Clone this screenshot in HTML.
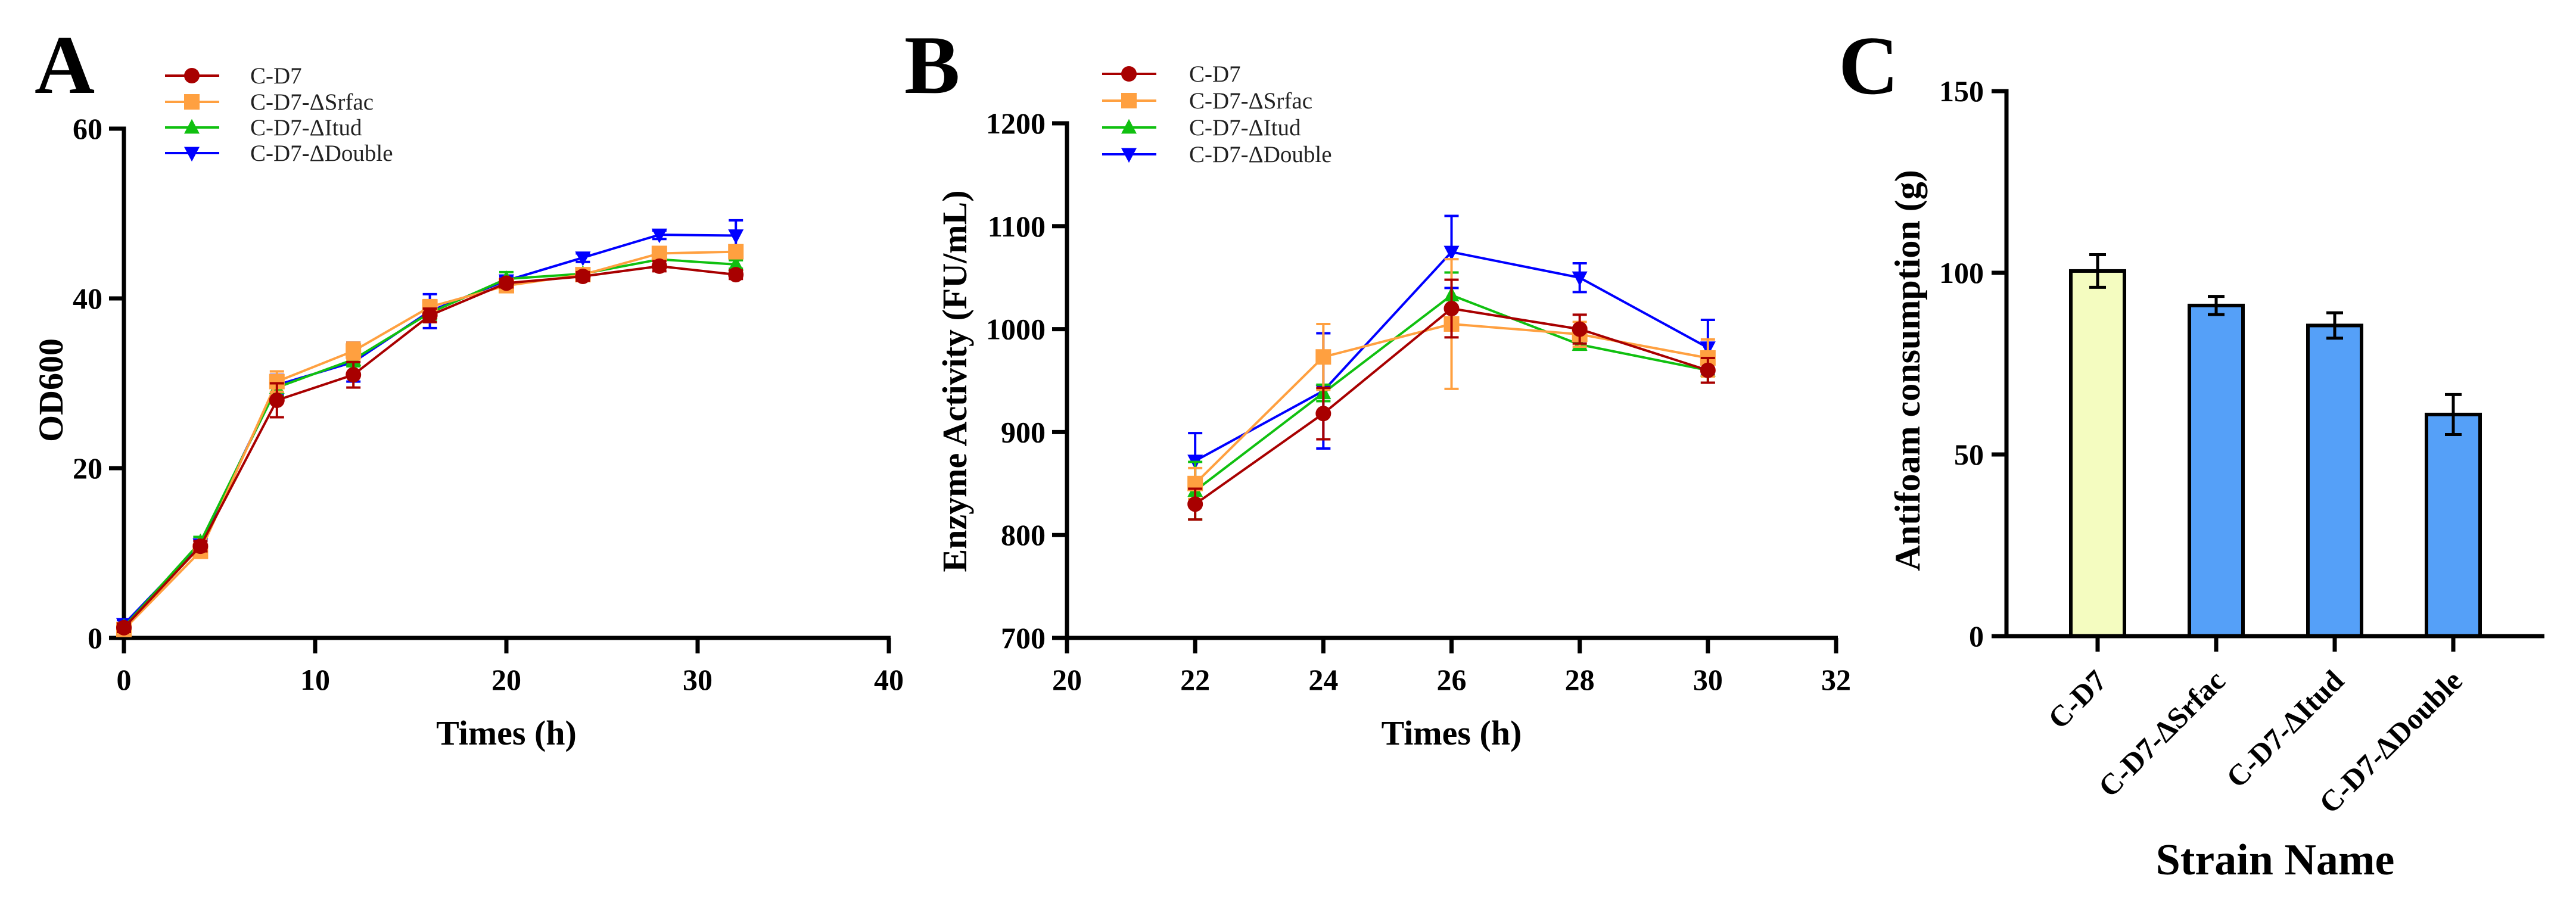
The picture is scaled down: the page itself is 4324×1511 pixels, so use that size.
<!DOCTYPE html>
<html><head><meta charset="utf-8"><style>
html,body{margin:0;padding:0;background:#fff;}
svg{display:block;font-family:"Liberation Serif",serif;}
</style></head><body>
<svg id="fig" width="4324" height="1511" viewBox="0 0 4324 1511" xmlns="http://www.w3.org/2000/svg">
<rect width="4324" height="1511" fill="#fff"/>
<g id="pA"></g>
<g id="pB"></g>
<g id="pC"></g>
</svg>
<script>
// Panel A data
const timesA = [0,4,8,12,16,20,24,28,32];
const odC = [1.2,10.8,28,31,38,41.8,42.6,43.8,42.8];
const odS = [1.0,10.2,30.2,33.8,39,41.5,42.8,45.3,45.5];
const odI = [1.3,11.3,29.5,32.8,38.3,42.3,42.9,44.6,44.0];
const odD = [1.6,11.0,29.8,32.5,38.5,42.1,44.8,47.5,47.4];
const odCe = [0.5,0.6,2.0,1.5,0.8,0.5,0.5,0.6,0.5];
const odSe = [0.4,0.6,1.2,1.0,0.8,0.6,0.5,0.6,0.6];
const odIe = [0.4,0.6,1.0,0.8,0.8,0.8,0.5,0.6,0.5];
const odDe = [0.5,0.5,1.2,2.3,2.0,0.5,0.5,0.5,1.8];
const xTicksA = [0,10,20,30,40];
const yTicksA = [0,20,40,60];
// Panel B data
const timesB = [22,24,26,28,30];
const enC = [830,918,1020,1000,960];
const enS = [850,973,1005,995,972];
const enI = [843,938,1033,985,960];
const enD = [872,940,1075,1050,982];
const enCe = [15,25,28,14,12];
const enSe = [15,32,63,12,18];
const enIe = [28,8,22,5,12];
const enDe = [27,56,35,14,27];
const xTicksB = [20,22,24,26,28,30,32];
const yTicksB = [700,800,900,1000,1100,1200];
// Panel C data
const strains = ["C-D7","C-D7-ΔSrfac","C-D7-ΔItud","C-D7-ΔDouble"];
const antifoam = [100.5,91,85.5,61];
const antifoamErr = [4.5,2.5,3.5,5.5];
const yTicksC = [0,50,100,150];
const seriesNames = ["C-D7","C-D7-ΔSrfac","C-D7-ΔItud","C-D7-ΔDouble"];

const NS="http://www.w3.org/2000/svg";
function mk(parent,tag,attrs,text){const e=document.createElementNS(NS,tag);for(const k in attrs)e.setAttribute(k,attrs[k]);if(text!==undefined)e.textContent=text;parent.appendChild(e);return e;}
const colors=["#a80000","#ffa040","#10c010","#0000ff"];
const shapes=["circle","square","tri","itri"];

function marker(g,shape,x,y,c,r){
  let e;
  if(shape==="circle")e=mk(g,"circle",{cx:x,cy:y,r:r,fill:c});
  else if(shape==="square")e=mk(g,"rect",{x:x-r,y:y-r,width:2*r,height:2*r,fill:c});
  else if(shape==="tri")e=mk(g,"polygon",{points:`${x},${y-r*1.1} ${x-r},${y+r*0.8} ${x+r},${y+r*0.8}`,fill:c});
  else e=mk(g,"polygon",{points:`${x},${y+r*1.1} ${x-r},${y-r*0.8} ${x+r},${y-r*0.8}`,fill:c});
  return e;
}

function linePanel(gid,o){
  const g=document.getElementById(gid);
  const sx=v=>o.x0+(v-o.xmin)/(o.xmax-o.xmin)*(o.x1-o.x0);
  const sy=v=>o.y0-(v-o.ymin)/(o.ymax-o.ymin)*(o.y0-o.y1);
  let t=mk(g,"text",{x:o.lx,y:o.ly,"font-size":140,"font-weight":"bold"},o.letter);
  
  
  let ax=mk(g,"path",{d:`M${o.x0-23},${o.y0} H${o.x1+3} M${o.x0},${o.y0+3} V${o.y1} H${o.x0-25}`,stroke:"#000","stroke-width":7,fill:"none"});
  
  
  o.xt.forEach(v=>{
    mk(g,"line",{x1:sx(v),x2:sx(v),y1:o.y0,y2:o.y0+26,stroke:"#000","stroke-width":7});
    let l=mk(g,"text",{x:sx(v),y:o.y0+87,"font-size":50,"font-weight":"bold","text-anchor":"middle"},v);
    
    
  });
  o.yt.forEach(v=>{
    mk(g,"line",{x1:o.x0-25,x2:o.x0,y1:sy(v),y2:sy(v),stroke:"#000","stroke-width":7});
    let l=mk(g,"text",{x:o.x0-36,y:sy(v)+17,"font-size":50,"font-weight":"bold","text-anchor":"end"},v);
    
    
  });
  let xt=mk(g,"text",{x:(o.x0+o.x1)/2,y:1250,"font-size":58,"font-weight":"bold","text-anchor":"middle"},"Times (h)");
  
  
  let yt=mk(g,"text",{x:0,y:0,"font-size":58,"font-weight":"bold","text-anchor":"middle",transform:`translate(${o.ytx},${o.yty}) rotate(-90)`},o.ytitle);
  
  
  for(let s=3;s>=0;s--){
    const sg=mk(g,"g",{});
    
    
    const ys=o.series[s], es=o.errs[s];
    o.xs.forEach((xv,i)=>{
      const X=sx(xv),ya=sy(ys[i]+es[i]),yb=sy(ys[i]-es[i]);
      mk(sg,"path",{d:`M${X},${ya} V${yb} M${X-12},${ya} H${X+12} M${X-12},${yb} H${X+12}`,stroke:colors[s],"stroke-width":4,fill:"none"});
    });
    mk(sg,"polyline",{points:o.xs.map((xv,i)=>sx(xv)+","+sy(ys[i])).join(" "),stroke:colors[s],"stroke-width":4,fill:"none"});
    o.xs.forEach((xv,i)=>{
      const m=marker(sg,shapes[s],sx(xv),sy(ys[i]),colors[s],13);
      
      
    });
  }
  const lg=mk(g,"g",{});
  
  
  o.legY.forEach((y,s)=>{
    const e=mk(lg,"g",{});
    
    
    mk(e,"line",{x1:o.legX,x2:o.legX+91,y1:y,y2:y,stroke:colors[s],"stroke-width":4});
    marker(e,shapes[s],o.legX+45,y,colors[s],13);
    mk(e,"text",{x:o.legTX,y:y+13,"font-size":39,fill:"#222"},seriesNames[s]);
  });
}

linePanel("pA",{letter:"A",lx:58,ly:156,x0:208,x1:1492,xmin:0,xmax:40,y0:1071,y1:216,ymin:0,ymax:60,
  xt:xTicksA,yt:yTicksA,ytitle:"OD600",ytx:105,yty:655,xs:timesA,
  series:[odC,odS,odI,odD],errs:[odCe,odSe,odIe,odDe],legX:277,legTX:420,legY:[127,171,214,257]});
linePanel("pB",{letter:"B",lx:1518,ly:156,x0:1791,x1:3082,xmin:20,xmax:32,y0:1071,y1:207,ymin:700,ymax:1200,
  xt:xTicksB,yt:yTicksB,ytitle:"Enzyme Activity (FU/mL)",ytx:1622,yty:640,xs:timesB,
  series:[enC,enS,enI,enD],errs:[enCe,enSe,enIe,enDe],legX:1850,legTX:1996,legY:[124,169,214,259]});

(function(){
  const g=document.getElementById("pC");
  const x0=3368,x1=4271,y0=1068,y1=153;
  const sy=v=>y0-v/150*(y0-y1);
  const bx=i=>3521+i*199;
  let t=mk(g,"text",{x:3086,y:157,"font-size":140,"font-weight":"bold"},"C");
  
  
  strains.forEach((s,i)=>{
    const b=mk(g,"rect",{x:bx(i)-45,y:sy(antifoam[i]),width:90,height:y0-sy(antifoam[i]),fill:i===0?"#f4fcc0":"#55a0f8",stroke:"#000","stroke-width":6});
    
    
    const ya=sy(antifoam[i]+antifoamErr[i]),yb=sy(antifoam[i]-antifoamErr[i]);
    const eb=mk(g,"path",{d:`M${bx(i)},${ya} V${yb} M${bx(i)-14},${ya} H${bx(i)+14} M${bx(i)-14},${yb} H${bx(i)+14}`,stroke:"#000","stroke-width":5,fill:"none"});
    
    
    mk(g,"line",{x1:bx(i),x2:bx(i),y1:y0,y2:y0+26,stroke:"#000","stroke-width":7});
    const l=mk(g,"text",{x:0,y:0,"font-size":50,"font-weight":"bold","text-anchor":"end",transform:`translate(${bx(i)+18},${y0+78}) rotate(-45)`},s);
    
    
  });
  let ax=mk(g,"path",{d:`M${x0-23},${y0} H${x1} M${x0},${y0+3} V${y1} H${x0-25}`,stroke:"#000","stroke-width":7,fill:"none"});
  
  
  yTicksC.forEach(v=>{
    mk(g,"line",{x1:x0-25,x2:x0,y1:sy(v),y2:sy(v),stroke:"#000","stroke-width":7});
    const l=mk(g,"text",{x:x0-38,y:sy(v)+17,"font-size":50,"font-weight":"bold","text-anchor":"end"},v);
    
    
  });
  let yt=mk(g,"text",{x:0,y:0,"font-size":60,"font-weight":"bold","text-anchor":"middle",transform:"translate(3222,622) rotate(-90)"},"Antifoam consumption (g)");
  
  
  let xt=mk(g,"text",{x:3819,y:1468,"font-size":74,"font-weight":"bold","text-anchor":"middle"},"Strain Name");
  
  
})();
</script>
</body></html>
